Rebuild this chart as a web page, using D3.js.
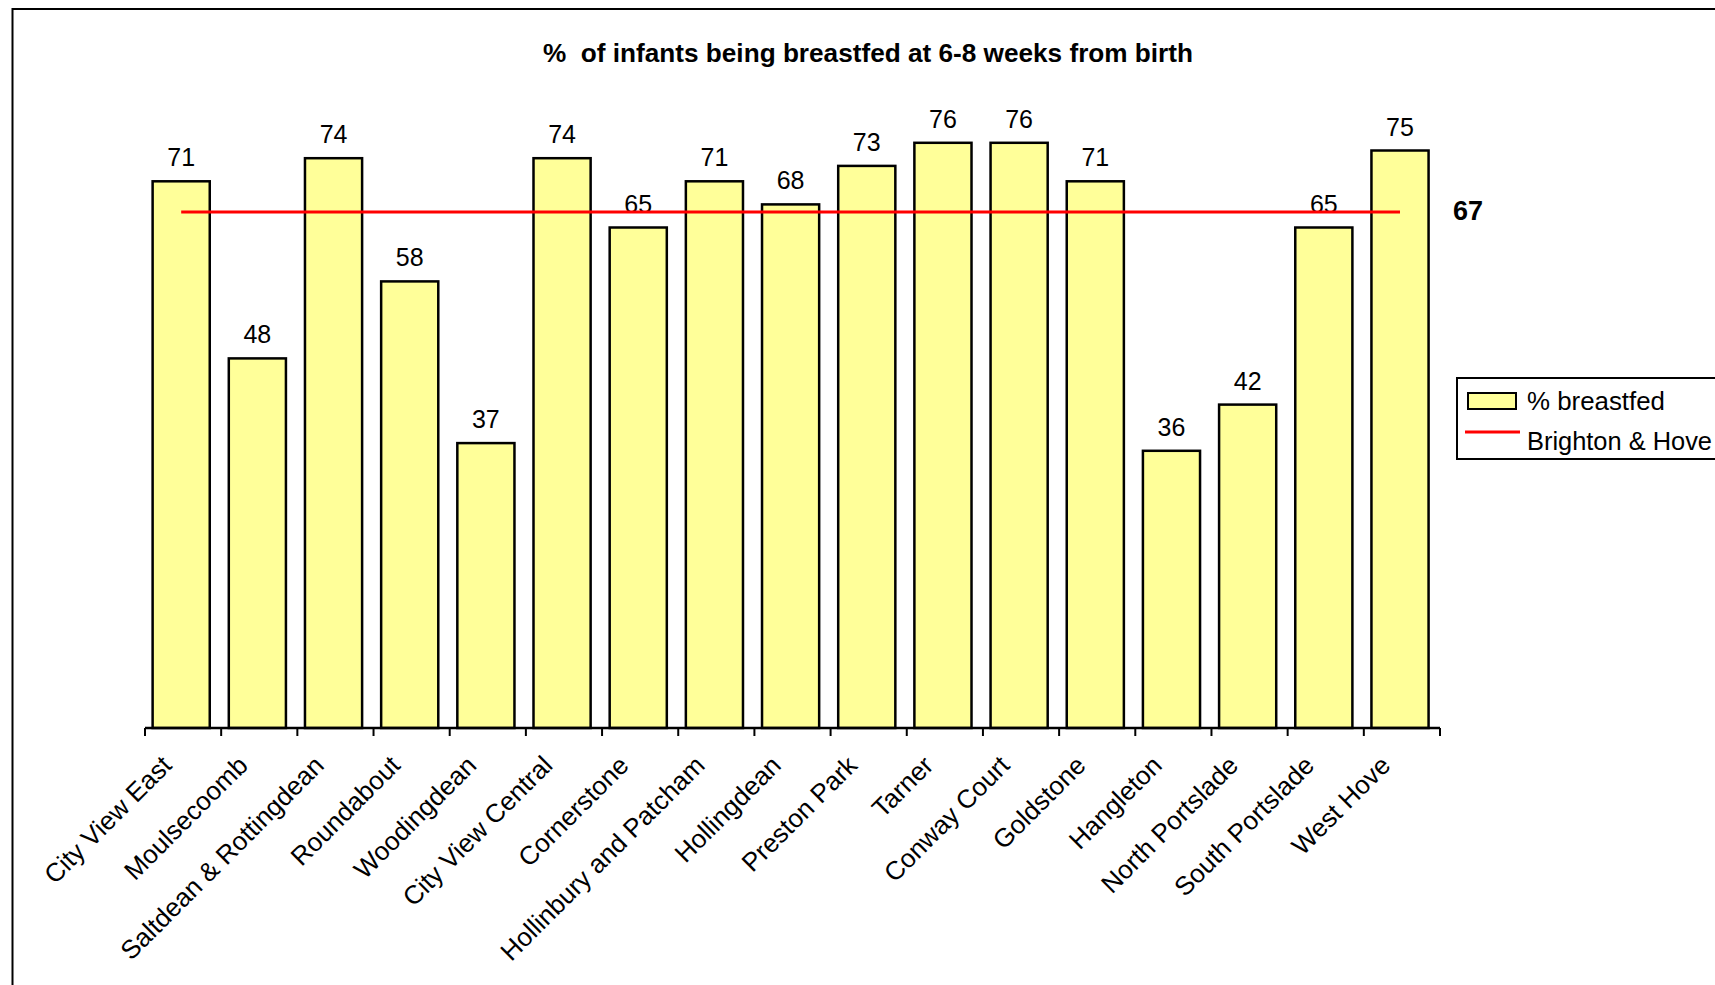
<!DOCTYPE html>
<html>
<head>
<meta charset="utf-8">
<script src="https://cdn.jsdelivr.net/npm/d3@7"></script>
<style>
  html, body { margin: 0; padding: 0; background: #ffffff; overflow: hidden; }
  svg { display: block; font-family: "Liberation Sans", Arial, sans-serif; }
</style>
</head>
<body>
<svg id="chart" width="1715" height="985"></svg>
<script>
// ---- data ----
const categories = [
  "City View East", "Moulsecoomb", "Saltdean & Rottingdean", "Roundabout",
  "Woodingdean", "City View Central", "Cornerstone", "Hollinbury and Patcham",
  "Hollingdean", "Preston Park", "Tarner", "Conway Court", "Goldstone",
  "Hangleton", "North Portslade", "South Portslade", "West Hove"
];
const breastfed = [71, 48, 74, 58, 37, 74, 65, 71, 68, 73, 76, 76, 71, 36, 42, 65, 75];
const cityAverage = 67;
const titleText = "%  of infants being breastfed at 6-8 weeks from birth";
const seriesNames = ["% breastfed", "Brighton & Hove"];

// ---- layout ----
const svg = d3.select("#chart");
const W = 1715, H = 985;
const plotLeft = 145, plotRight = 1440, baseY = 728;
const pxPerUnit = 7.7;
const yMax = 80;

const x = d3.scaleBand().domain(categories).range([plotLeft, plotRight])
  .paddingInner(0.25).paddingOuter(0.125).align(0.4);
const y = d3.scaleLinear().domain([0, yMax]).range([baseY, baseY - yMax * pxPerUnit]);

const yellow = "#FFFF99";

// outer border (extends past right/bottom edges like the reference)
svg.append("rect")
  .attr("x", 12.5).attr("y", 9).attr("width", W + 40).attr("height", H + 40)
  .attr("fill", "none").attr("stroke", "#000").attr("stroke-width", 2);

// title
svg.append("text")
  .attr("x", 543).attr("y", 62)
  .attr("textLength", 650).attr("lengthAdjust", "spacingAndGlyphs")
  .attr("font-size", 25).attr("font-weight", "bold").attr("fill", "#000")
  .style("white-space", "pre")
  .text(titleText);

// bars
svg.append("g").selectAll("rect")
  .data(breastfed)
  .join("rect")
  .attr("x", (d, i) => x(categories[i]))
  .attr("y", d => y(d))
  .attr("width", x.bandwidth())
  .attr("height", d => y(0) - y(d))
  .attr("fill", yellow)
  .attr("stroke", "#000")
  .attr("stroke-width", 2.5);

// value labels
svg.append("g").selectAll("text")
  .data(breastfed)
  .join("text")
  .attr("x", (d, i) => x(categories[i]) + x.bandwidth() / 2)
  .attr("y", d => y(d) - 15)
  .attr("text-anchor", "middle")
  .attr("font-size", 25)
  .attr("fill", "#000")
  .text(d => d);

// x axis line and ticks at category boundaries
const step = (plotRight - plotLeft) / categories.length;
const tickXs = d3.range(categories.length + 1).map(i => plotLeft + i * step);
svg.append("line")
  .attr("x1", plotLeft).attr("x2", plotRight)
  .attr("y1", baseY).attr("y2", baseY)
  .attr("stroke", "#000").attr("stroke-width", 2.5);
svg.append("g").selectAll("line")
  .data(tickXs)
  .join("line")
  .attr("x1", d => d).attr("x2", d => d)
  .attr("y1", baseY).attr("y2", baseY + 8)
  .attr("stroke", "#000").attr("stroke-width", 2);

// x labels rotated
svg.append("g").selectAll("text")
  .data(categories)
  .join("text")
  .attr("transform", c => `translate(${x(c) + x.bandwidth() / 2 - 8},767) rotate(-45)`)
  .attr("text-anchor", "end")
  .attr("font-size", 26)
  .attr("fill", "#000")
  .text(c => c);

// average line
const first = categories[0], last = categories[categories.length - 1];
svg.append("line")
  .attr("x1", x(first) + x.bandwidth() / 2)
  .attr("x2", x(last) + x.bandwidth() / 2)
  .attr("y1", y(cityAverage)).attr("y2", y(cityAverage))
  .attr("stroke", "#ff0000").attr("stroke-width", 3);

svg.append("text")
  .attr("x", 1453).attr("y", 220)
  .attr("font-size", 27).attr("font-weight", "bold").attr("fill", "#000")
  .text(cityAverage);

// legend
const lg = svg.append("g");
lg.append("rect")
  .attr("x", 1457).attr("y", 378).attr("width", 300).attr("height", 81)
  .attr("fill", "#fff").attr("stroke", "#000").attr("stroke-width", 2);
lg.append("rect")
  .attr("x", 1468).attr("y", 393).attr("width", 48).attr("height", 16)
  .attr("fill", yellow).attr("stroke", "#000").attr("stroke-width", 2);
lg.append("text")
  .attr("x", 1527).attr("y", 410)
  .attr("font-size", 25).attr("fill", "#000")
  .attr("textLength", 138).attr("lengthAdjust", "spacingAndGlyphs")
  .text(seriesNames[0]);
lg.append("line")
  .attr("x1", 1465).attr("x2", 1520).attr("y1", 432).attr("y2", 432)
  .attr("stroke", "#ff0000").attr("stroke-width", 3);
lg.append("text")
  .attr("x", 1527).attr("y", 450)
  .attr("font-size", 25).attr("fill", "#000")
  .attr("textLength", 185).attr("lengthAdjust", "spacingAndGlyphs")
  .text(seriesNames[1]);
</script>
</body>
</html>
